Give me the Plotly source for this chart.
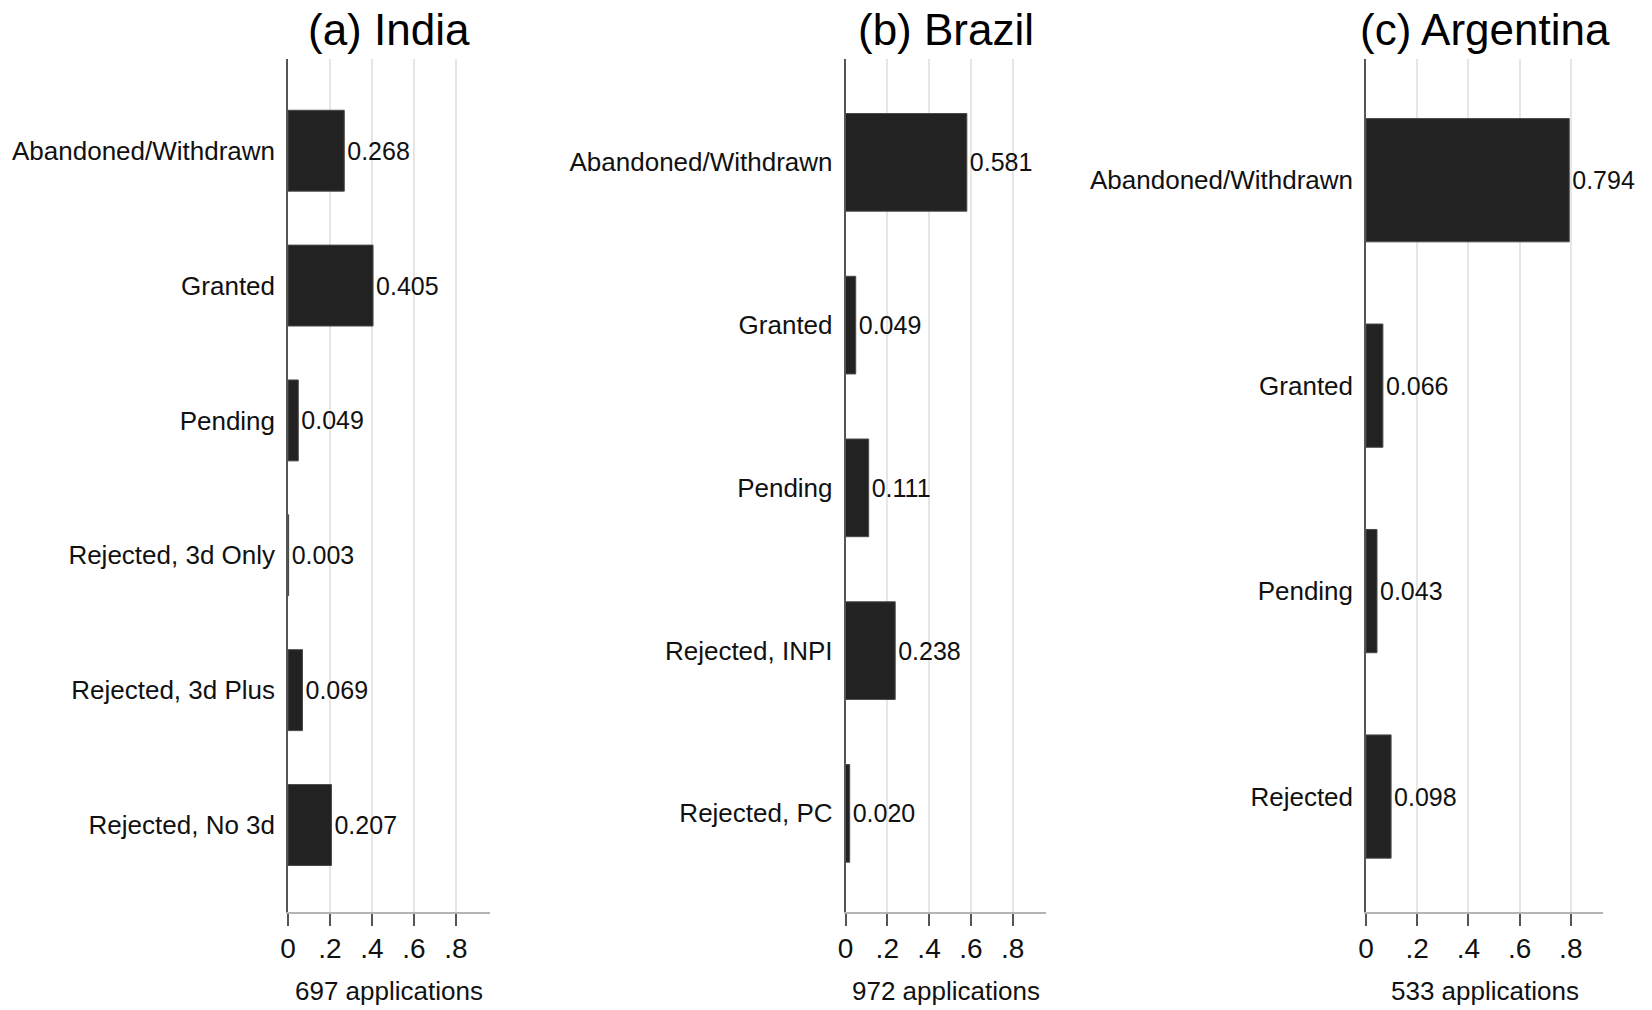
import plotly.graph_objects as go
from plotly.subplots import make_subplots

# ---- data ----
titles = ["(a) India", "(b) Brazil", "(c) Argentina"]
n_apps = [697, 972, 533]

india_cats = ["Abandoned/Withdrawn", "Granted", "Pending", "Rejected, 3d Only",
              "Rejected, 3d Plus", "Rejected, No 3d"]
india_vals = [0.268, 0.405, 0.049, 0.003, 0.069, 0.207]

brazil_cats = ["Abandoned/Withdrawn", "Granted", "Pending", "Rejected, INPI", "Rejected, PC"]
brazil_vals = [0.581, 0.049, 0.111, 0.238, 0.020]

argentina_cats = ["Abandoned/Withdrawn", "Granted", "Pending", "Rejected"]
argentina_vals = [0.794, 0.066, 0.043, 0.098]

tick_vals = [0, 0.2, 0.4, 0.6, 0.8]
tick_text = ["0", ".2", ".4", ".6", ".8"]

# ---- layout geometry (pixels in the 1652x1010 page) ----
W, H = 1652, 1010
x_px = [(288, 490), (845.5, 1046), (1366, 1603.3)]
x_max = [0.962, 0.960, 0.927]
y_ranges = [[5.645, -0.68], [4.606, -0.635], [3.562, -0.59]]
y_top, y_bot = 59, 912


def fx(px):
    return px / W


def fy(py):
    return 1 - py / H


FONT = "Liberation Sans, Arial, Helvetica, sans-serif"

fig = make_subplots(rows=1, cols=3)
panels = [(india_cats, india_vals), (brazil_cats, brazil_vals), (argentina_cats, argentina_vals)]

for i, (cats, vals) in enumerate(panels):
    fig.add_trace(go.Bar(
        x=vals, y=cats, orientation="h",
        marker=dict(color="#222222", line=dict(color="#4a4a4a", width=1)),
        width=0.6,
        text=[f"{v:.3f}" for v in vals],
        textposition="outside",
        textfont=dict(size=25, color="#111111", family=FONT),
        constraintext="none",
        cliponaxis=False,
        showlegend=False,
    ), row=1, col=i + 1)

    xa = "xaxis" if i == 0 else f"xaxis{i+1}"
    ya = "yaxis" if i == 0 else f"yaxis{i+1}"
    x0, x1 = x_px[i]
    fig.layout[xa].update(
        domain=[fx(x0), fx(x1)], range=[0, x_max[i]],
        tickvals=tick_vals, ticktext=tick_text,
        tickfont=dict(size=28, color="#111111", family=FONT),
        showgrid=True, gridcolor="#e6e6e6", gridwidth=2,
        zeroline=False,
        showline=True, linecolor="#b4b4b4", linewidth=2,
        ticks="outside", ticklen=12, tickwidth=2, tickcolor="#555555",
        ticklabelstandoff=-2,
        automargin=False,
    )
    fig.layout[ya].update(
        domain=[fy(y_bot), fy(y_top)],
        range=y_ranges[i],
        type="category",
        tickfont=dict(size=26, color="#111111", family=FONT),
        showgrid=False, zeroline=False,
        showline=True, linecolor="#555555", linewidth=1.5,
        ticks="", ticklabelstandoff=6,
        automargin=False,
    )
    cx = fx((x0 + x1) / 2)
    fig.add_annotation(x=cx, y=fy(29), xref="paper", yref="paper",
                       text=titles[i], showarrow=False, xanchor="center", yanchor="middle",
                       font=dict(size=44, color="#000000", family=FONT))
    fig.add_annotation(x=cx, y=fy(991), xref="paper", yref="paper",
                       text=f"{n_apps[i]} applications", showarrow=False,
                       xanchor="center", yanchor="middle",
                       font=dict(size=26, color="#111111", family=FONT))

fig.update_layout(
    width=W, height=H,
    margin=dict(l=0, r=0, t=0, b=0, autoexpand=False),
    paper_bgcolor="white", plot_bgcolor="white",
    bargap=0.4,
)

# remove the default 8px page margin so the figure fills the window exactly
fig.write_html("out.html",
               config={"displayModeBar": False},
               post_script="document.body.style.margin='0';document.body.style.overflow='hidden';")
